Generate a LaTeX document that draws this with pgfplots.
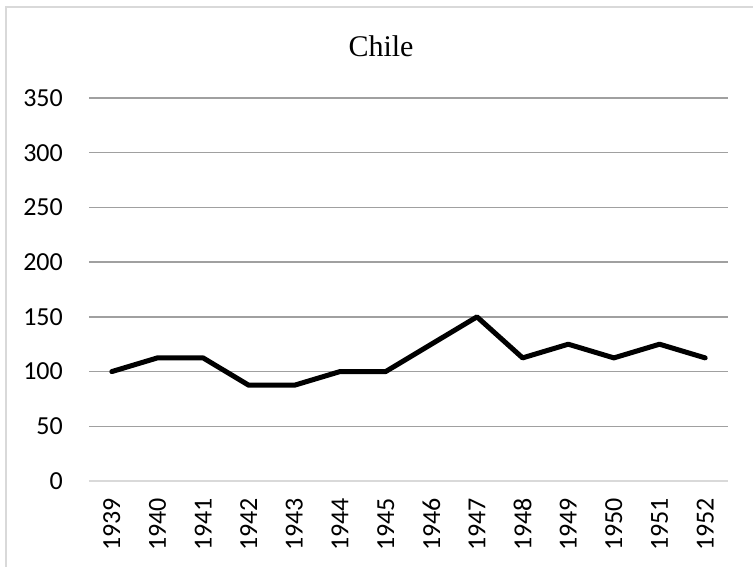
\documentclass[border=0pt]{standalone}
\usepackage{pgfplots}
\pgfplotsset{compat=1.18}
\usepackage{fontspec}
\setmainfont{Carlito}
\newfontfamily\titlefont{Liberation Serif}
\definecolor{gridgray}{HTML}{A0A0A0}
\definecolor{lightgrid}{HTML}{D9D9D9}
\begin{document}
\begin{tikzpicture}
\useasboundingbox (-89bp,-86bp) rectangle (664bp,481bp);
\draw[lightgrid, line width=1.5bp] (-83bp,-100bp) -- (-83bp,474bp) -- (700bp,474bp);
\begin{axis}[
  at={(0,0)}, anchor=south west,
  scale only axis,
  width=639bp, height=383bp,
  xmin=-0.5, xmax=13.5,
  ymin=0, ymax=350,
  ytick={50,100,...,350},
  extra y ticks={0},
  extra y tick style={major grid style={lightgrid, line width=1.5bp}},
  xtick={0,...,13},
  xticklabels={1939,1940,1941,1942,1943,1944,1945,1946,1947,1948,1949,1950,1951,1952},
  ymajorgrids,
  major grid style={gridgray, line width=1.5bp},
  axis line style={draw=none},
  major tick length=0pt,
  tick style={draw=none},
  /pgf/number format/assume math mode=true,
  ticklabel style={font=\fontsize{26bp}{30bp}\selectfont, inner sep=0pt},
  yticklabel style={anchor=east},
  yticklabel shift=26bp,
  xticklabel style={rotate=90, anchor=east},
  xticklabel shift=17bp,
]
\addplot[black, line width=5bp, line join=round, line cap=round] coordinates {
(0,100) (1,112.5) (2,112.5) (3,87.5) (4,87.5) (5,100) (6,100)
(7,125) (8,150) (9,112.5) (10,125) (11,112.5) (12,125) (13,112.5)
};
\end{axis}
\node[anchor=base, inner sep=0pt, font=\titlefont\fontsize{30bp}{36bp}\selectfont] at (292bp,424bp) {Chile};
\end{tikzpicture}
\end{document}
